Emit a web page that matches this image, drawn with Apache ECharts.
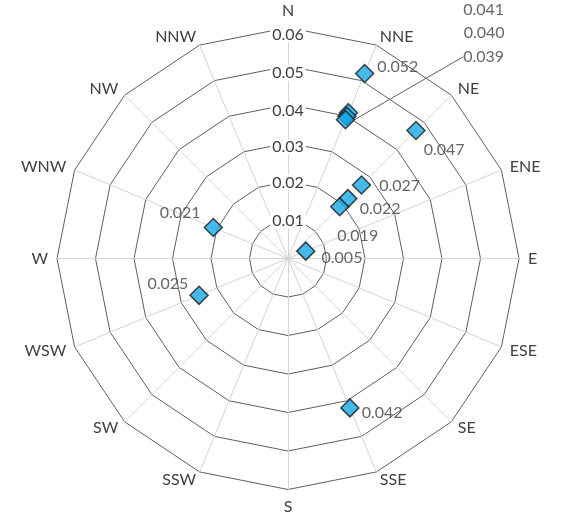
<!DOCTYPE html>
<html>
<head>
<meta charset="utf-8">
<script src="https://cdn.jsdelivr.net/npm/echarts@6/dist/echarts.min.js"></script>
<style>
  html, body { margin: 0; padding: 0; background: #ffffff; }
  #chart { width: 571px; height: 529px; }
</style>
</head>
<body>
<div id="chart"></div>
<script>
// Compass directions, clockwise from north
var directions = ['N', 'NNE', 'NE', 'ENE', 'E', 'ESE', 'SE', 'SSE',
                  'S', 'SSW', 'SW', 'WSW', 'W', 'WNW', 'NW', 'NNW'];

// Observed values and the direction each one belongs to
var pointDirections = ['NNE', 'NNE', 'NNE', 'NNE', 'NE', 'NE', 'NE', 'NE', 'ENE', 'WNW', 'WSW', 'SSE'];
var pointValues     = [0.052, 0.041, 0.040, 0.039, 0.047, 0.027, 0.022, 0.019, 0.005, 0.021, 0.025, 0.042];

// Radial scale
var radiusMin = 0;
var radiusMax = 0.06;
var radiusStep = 0.01;

// Label placement for each point: [position, dx, dy, showLeader]
var labelPlacement = [
  ['right', -2, -7, false],
  ['right', 100, -103, false],
  ['right', 102, -83, false],
  ['right', 103, -63, true],
  ['right', -7, 19, false],
  ['right', 3, 1, false],
  ['right', -3, 10, false],
  ['bottom', 18, 6, false],
  ['right', 1, 7, false],
  ['left', 2, -15, false],
  ['left', 4, -11, false],
  ['right', -3, 5, false]
];

// Downward nudge (px) of each radial tick label below its ring, outermost first
var tickLabelDrop = { '0.06': 7, '0.05': 7, '0.04': 6, '0.03': 4, '0.02': 1, '0.01': 0 };

var textColor = '#404040';
var fontFamily = 'Lato, "Open Sans", sans-serif';
var center = [288, 258.5];
var radius = 231;

// Radar lays its indicators out counter-clockwise, so feed them in reverse
var radarOrder = [directions[0]].concat(directions.slice(1).reverse());

// Rich styles: an invisible spacer line above the text pushes it down
var tickRich = {
  t: { color: textColor, fontSize: 16, fontFamily: fontFamily, backgroundColor: '#ffffff', padding: [0, 2] }
};
Object.keys(tickLabelDrop).forEach(function (k, i) {
  var h = Math.max(1, tickLabelDrop[k] * 2);
  tickRich['sp' + i] = { height: h, lineHeight: h, fontSize: 1 };
});
var tickKeys = Object.keys(tickLabelDrop);

var chart = echarts.init(document.getElementById('chart'), null, { renderer: 'canvas' });

var option = {
  backgroundColor: '#ffffff',
  animation: false,
  radar: {
    center: center,
    radius: radius,
    startAngle: 90,
    shape: 'polygon',
    splitNumber: (radiusMax - radiusMin) / radiusStep,
    indicator: radarOrder.map(function (d) { return { name: d, min: radiusMin, max: radiusMax }; }),
    axisName: { color: textColor, fontSize: 16, fontFamily: fontFamily },
    nameGap: 9,
    splitLine: { lineStyle: { color: '#5f5f5f', width: 1 } },
    splitArea: { show: false },
    axisLine: { lineStyle: { color: '#d4d4d4', width: 1 } },
    axisTick: { show: false },
    axisLabel: { show: false }
  },
  polar: { center: center, radius: radius },
  angleAxis: {
    type: 'category',
    data: directions,
    startAngle: 90,
    clockwise: true,
    boundaryGap: false,
    axisLine: { show: false },
    axisTick: { show: false },
    axisLabel: { show: false },
    splitLine: { show: false }
  },
  radiusAxis: {
    type: 'value',
    min: radiusMin,
    max: radiusMax,
    interval: radiusStep,
    z: 5,
    axisLine: { show: true, lineStyle: { color: '#d4d4d4', width: 1 } },
    axisTick: { show: false },
    splitLine: { show: false },
    axisLabel: {
      show: true,
      showMinLabel: false,
      margin: 0,
      align: 'center',
      verticalAlign: 'middle',
      rich: tickRich,
      formatter: function (v) {
        var txt = v.toFixed(2);
        var idx = tickKeys.indexOf(txt);
        return '{sp' + idx + '| }\n{t|' + txt + '}';
      }
    }
  },
  series: [{
    type: 'scatter',
    coordinateSystem: 'polar',
    z: 10,
    symbol: 'diamond',
    symbolSize: 18,
    itemStyle: { color: '#17a9e6', borderColor: '#1a1a1a', borderWidth: 1.5 },
    label: {
      show: true,
      color: textColor,
      fontSize: 16,
      fontFamily: fontFamily,
      formatter: function (p) { return p.value[0].toFixed(3); }
    },
    labelLine: { show: false, lineStyle: { color: '#606060', width: 1 } },
    labelLayout: function (p) {
      var lp = labelPlacement[p.dataIndex];
      return { dx: lp[1], dy: lp[2] };
    },
    data: pointValues.map(function (v, i) {
      var lp = labelPlacement[i];
      return {
        value: [v, pointDirections[i]],
        label: { position: lp[0] },
        labelLine: { show: lp[3] }
      };
    })
  }]
};

chart.setOption(option);
</script>
</body>
</html>
